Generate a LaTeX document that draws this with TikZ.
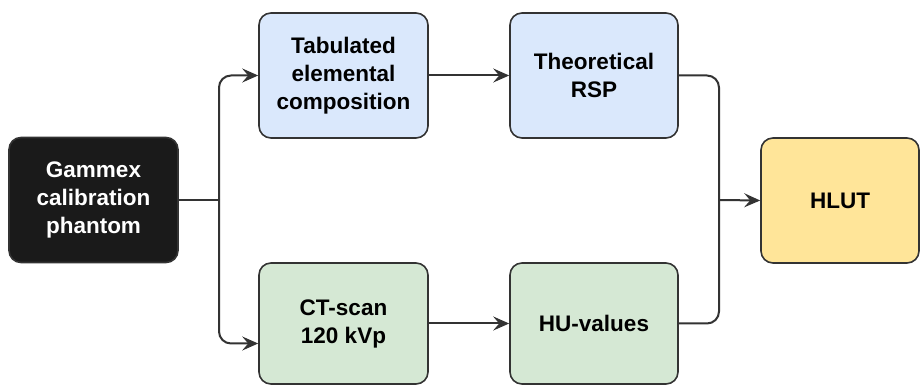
\documentclass[tikz,border=0pt]{standalone}
\usepackage{fontspec}
\setmainfont{Liberation Sans}
\usetikzlibrary{arrows.meta}
\definecolor{dark}{HTML}{1A1A1A}
\definecolor{lblue}{HTML}{DAE8FC}
\definecolor{lgreen}{HTML}{D5E8D4}
\definecolor{lyellow}{HTML}{FFE599}
\definecolor{edge}{HTML}{333333}

\begin{document}
\begin{tikzpicture}[x=.5pt,y=.5pt,
  box/.style={draw=edge,line width=.8pt,rounded corners=6pt,minimum width=84.5pt,
    minimum height=62.5pt,align=center,inner sep=0pt,
    font=\fontsize{11.25}{14}\selectfont\bfseries},
  wire/.style={edge,line width=1pt},
  link/.style={wire,-{Stealth[length=8pt,width=7pt,inset=3pt]}}]
  \useasboundingbox (0,0) rectangle (920,385);
  % boxes
  \node[box,fill=dark,text=white] (gam) at (93.5,185) {Gammex\\calibration\\phantom};
  \node[box,fill=lblue] (tab) at (343.5,309.5) {Tabulated\\elemental\\composition};
  \node[box,fill=lblue,minimum width=84pt] (theo) at (594,309.5) {Theoretical\\RSP};
  \node[box,fill=lgreen,minimum height=60.5pt] (ct) at (343.5,61.5) {CT-scan\\120 kVp};
  \node[box,fill=lgreen,minimum width=84pt,minimum height=60.5pt] (hu) at (594,61.5) {HU-values};
  \node[box,fill=lyellow,minimum width=79pt] (hlut) at (840,184.5) {HLUT};
  % connectors
  \coordinate (split) at (219,185);
  \coordinate (join) at (719,185);
  \draw[wire] (gam.east) -- (split);
  \draw[link,rounded corners=6pt] (split) |- (tab.west);
  \draw[link,rounded corners=6pt] (split) |- ([yshift=-10pt]ct.west);
  \draw[link] (tab) -- (theo);
  \draw[link] (ct) -- (hu);
  \draw[wire,rounded corners=6pt] (theo.east) -| (join) |- (hu.east);
  \draw[link] (join) -- (hlut.west);
\end{tikzpicture}
\end{document}
